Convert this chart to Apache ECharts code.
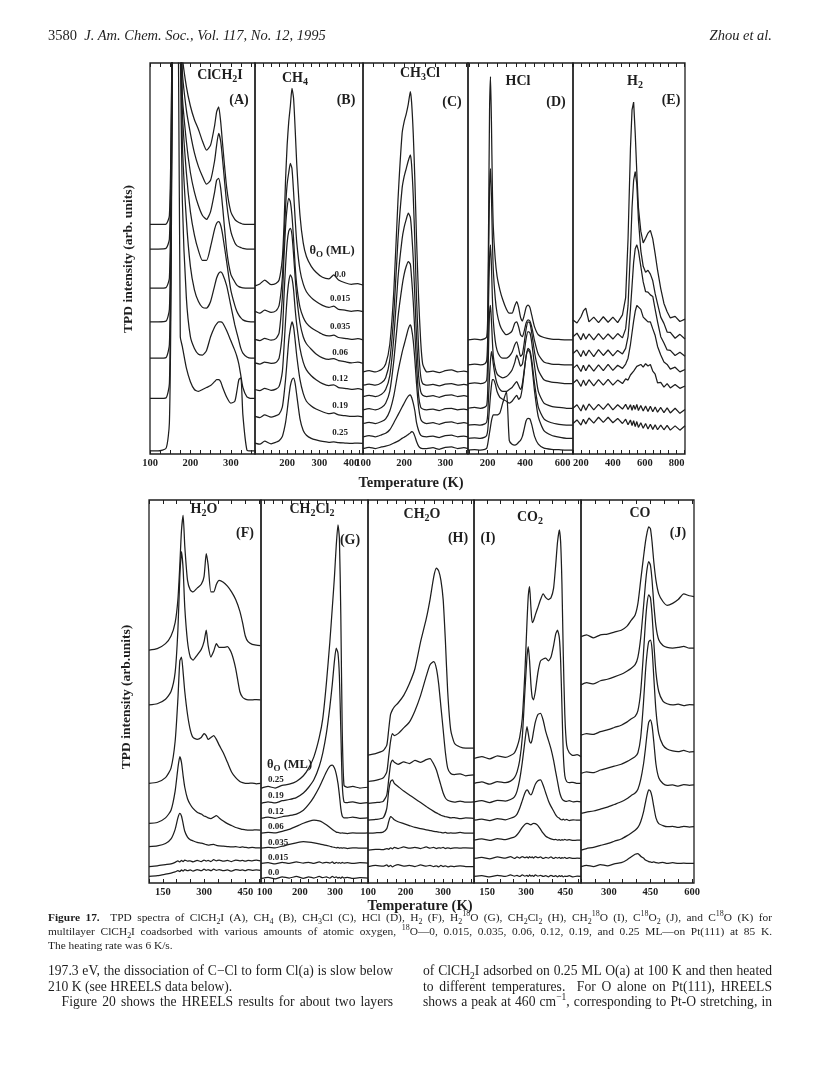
<!DOCTYPE html>
<html><head><meta charset="utf-8">
<script src="https://cdn.jsdelivr.net/npm/echarts@6.0.0/dist/echarts.min.js"></script>
<style>
html,body{margin:0;padding:0;background:#fff;}
#chart{position:absolute;left:0;top:0;width:820px;height:1068px;}
.txt{position:absolute;font-family:'Liberation Serif','Times New Roman',serif;color:#1e1e1e;line-height:15px;}
.j{text-align:justify;text-align-last:justify;}
.n{white-space:nowrap;}
sub,sup{font-size:70%;line-height:0;}
</style></head><body>
<div id="chart"></div>
<div class="txt n" style="left:48px;top:28px;font-size:14.5px;">3580&nbsp;&nbsp;<i>J. Am. Chem. Soc., Vol. 117, No. 12, 1995</i></div>
<div class="txt n" style="right:48px;top:28px;font-size:14.5px;"><i>Zhou et al.</i></div>
<div class="txt j" style="left:48px;top:910px;width:724px;font-size:11.4px;line-height:14px;"><b>Figure 17.</b>&nbsp; TPD spectra of ClCH<sub>2</sub>I (A), CH<sub>4</sub> (B), CH<sub>3</sub>Cl (C), HCl (D), H<sub>2</sub> (F), H<sub>2</sub><sup>18</sup>O (G), CH<sub>2</sub>Cl<sub>2</sub> (H), CH<sub>2</sub><sup>18</sup>O (I), C<sup>18</sup>O<sub>2</sub> (J), and C<sup>18</sup>O (K) for</div>
<div class="txt j" style="left:48px;top:924px;width:724px;font-size:11.4px;line-height:14px;">multilayer ClCH<sub>2</sub>I coadsorbed with various amounts of atomic oxygen, <sup>18</sup>O&#8212;0, 0.015, 0.035, 0.06, 0.12, 0.19, and 0.25 ML&#8212;on Pt(111) at 85 K.</div>
<div class="txt n" style="left:48px;top:938px;font-size:11.4px;line-height:14px;">The heating rate was 6 K/s.</div>
<div class="txt j" style="left:48px;top:963px;width:345px;font-size:13.6px;">197.3 eV, the dissociation of C&#8722;Cl to form Cl(a) is slow below</div>
<div class="txt n" style="left:48px;top:979px;font-size:13.6px;">210 K (see HREELS data below).</div>
<div class="txt j" style="left:48px;top:994px;width:345px;font-size:13.6px;">&emsp;Figure 20 shows the HREELS results for about two layers</div>
<div class="txt j" style="left:423px;top:963px;width:349px;font-size:13.6px;">of ClCH<sub>2</sub>I adsorbed on 0.25 ML O(a) at 100 K and then heated</div>
<div class="txt j" style="left:423px;top:979px;width:349px;font-size:13.6px;">to different temperatures.&nbsp; For O alone on Pt(111), HREELS</div>
<div class="txt j" style="left:423px;top:994px;width:349px;font-size:13.6px;">shows a peak at 460 cm<sup>&#8722;1</sup>, corresponding to Pt-O stretching, in</div>
<script>
// ---------------- DATA (temperatures in K, intensities in arb. units, offset traces top->bottom) -------------
// top figure: traces ordered theta_O = 0.0 (top) ... 0.25 (bottom)
const coverTop = ['0.0','0.015','0.035','0.06','0.12','0.19','0.25'];
// bottom figure: traces ordered theta_O = 0.25 (top) ... 0.0 (bottom)
const coverBottom = ['0.25','0.19','0.12','0.06','0.035','0.015','0.0'];

const tA = [100,120,140,148,152,156,160,165,170,175,180,190,200,210,220,230,240,250,260,265,270,275,280,290,300,310,315,320,325,330,340,350,360];
const sA = [
 [58.7,58.7,58.8,61,80,120,130,130,130,125,102,94,89,85.5,83,80,77.7,79,84,87.5,88.8,85,79,68,62,60,59.5,59.2,59,58.8,58.7,58.7,58.7],
 [52.4,52.4,52.6,55,75,120,130,130,130,122,98,88,82,77,73.5,71,69,70,75,79,82,80,75,64,57,54,53.3,53,52.8,52.6,52.4,52.4,52.4],
 [42.4,42.4,42.6,45,68,118,130,130,130,120,92,80,72,67,63.5,61,60,62,67,70,70.5,68,63,52,46,44,43.2,42.8,42.6,42.5,42.4,42.4,42.4],
 [33.8,33.8,34,37,60,115,130,130,130,118,88,72,62,56,52,49.5,49.5,53,57.5,59,59.4,58.5,56,49,42,38,36.5,35.5,34.8,34.3,33.9,33.8,33.8],
 [24.5,24.5,24.7,28,55,112,130,130,130,115,80,60,48,42,39,37.5,37.3,39,43,45,46.2,46.6,46,43,38,33,31,29,27,25.8,24.8,24.5,24.5],
 [14.2,14.2,14.4,18,50,110,130,130,128,105,65,40,30,27,25.5,25.3,26.5,30,32.5,33.3,33.8,33.8,33.5,31.5,29,26.5,25,23,20,17,14.6,14.2,14.2],
 [0.8,0.8,1.5,8,40,110,130,130,110,30,27.5,22,18.5,16.5,16,16.5,17,17.5,18.5,19,19,18.5,17,14.5,13,13.5,16,19,19.5,10,1,0.8,0.8]
];
const tB = [100,115,130,150,165,175,185,190,195,200,205,210,215,220,225,230,240,250,260,275,290,310,330,345,360,380,400,420,436];
const sB = [
 [43,43.5,44.5,43.3,43.6,44.5,50,58,70,79,85,89,93.5,91,83,74,61,54,50.5,48,46.5,45.2,44.8,45.8,44.5,43.8,43.4,43.6,43.2],
 [36.5,36,36.8,36.2,36.6,38,45,54,63,69,72,74.3,73,67,60,54,47,43.5,41.5,40,39,38,37.5,37.8,37,36.8,36.5,36.7,36.4],
 [29.3,29,29.6,29.1,29.5,31,40,50,58,63,65.4,64.5,61,55,48,43,37.5,35,33.5,32.3,31.5,30.6,30.2,30.4,29.8,29.6,29.3,29.5,29.2],
 [23.3,23,23.5,23.2,23.4,24.5,31,40,48,54,57,57.7,56,51,45,40,33.5,30,28.2,26.8,25.6,24.6,24.2,24.4,23.9,23.6,23.3,23.5,23.2],
 [16.5,16.2,16.8,16.3,16.6,17.3,21,27,34,40,44,45.8,45,42,37,33,27,23.5,21.5,20,19,18,17.5,17.7,17,16.8,16.5,16.7,16.4],
 [9.6,9.3,10,9.4,9.8,10.2,12,15,19,24,29,32,33.8,32.5,29,25,19,15.5,13.5,12.3,11.5,10.8,10.3,10.5,10,9.8,9.6,9.7,9.5],
 [2.8,2.5,3.3,2.6,3,3.4,4.5,6,8,11,14.5,17.5,19,19.4,18,15,9,6,4.8,4,3.6,3.2,3,3.1,2.9,2.8,2.7,2.8,2.7]
];
const tC = [100,115,130,145,155,165,175,185,195,200,205,210,215,218,222,226,230,235,240,245,255,270,285,300,315,330,345,355];
const sC = [
 [21,21.3,21,21.6,23,28,42,65,82,85,87,89.5,92.7,90,82,70,55,40,29,23,21,21.2,20.8,21.3,21.5,21,21.2,21],
 [17.6,17.9,17.6,18.2,19.5,24,36,55,68,71,73,75,76.5,74,66,54,40,27,20,18,17.6,17.8,17.4,17.9,18,17.6,17.8,17.6],
 [14.7,15,14.7,15.3,16.5,20,30,45,55,58,60,61.6,60.5,57,50,40,30,20,16,15,14.7,14.9,14.5,15,15.1,14.7,14.9,14.7],
 [11.3,11.6,11.3,11.9,13,16,24,35,43,46,48,49.2,48.5,45,39,31,23,15,12,11.5,11.3,11.5,11.1,11.6,11.7,11.3,11.5,11.3],
 [7.8,8.1,7.8,8.3,9,11,15,21,26,28,30,32,33,32,29,24,18,12,9,8.2,7.8,8,7.6,8.1,8.2,7.8,8,7.8],
 [4.4,4.7,4.4,4.9,5.3,6.2,8,10,12,13,14,14.8,15.1,14.5,13,11,8,6,4.8,4.5,4.4,4.6,4.2,4.7,4.8,4.4,4.6,4.4],
 [1.4,1.7,1.4,1.8,2,2.3,2.8,3.3,4,4.3,4.6,5,5.4,5.7,5.5,4.5,3.2,2,1.5,1.4,1.4,1.6,1.2,1.7,1.8,1.4,1.6,1.4]
];
const tD = [95,130,160,185,195,200,205,210,215,220,225,230,240,250,265,280,300,315,330,345,355,365,375,385,395,405,415,425,435,450,470,500,540,580,620,655];
const sD = [
 [29.2,29.4,29.2,29.5,30,35,60,88,96.5,85,68,58,50,45.5,42,39.5,37,36,36,38,39,37.5,35,34,35.5,37.5,38.1,37.5,35.5,32.5,30.5,29.8,29.4,29.3,29.2,29.2],
 [22.8,23,22.8,23.1,24,30,50,68,73,66,55,47,40,36,33,31.5,30.5,30.8,31.5,33.5,33.8,32.5,30.5,30,31.5,33.5,34.3,34,32.5,29,25.5,23.5,23,22.9,22.8,22.8],
 [18,18.2,18,18.3,19,24,40,50,53.5,48,40,34,29,26.5,25,24.5,24.5,25,26,28,28.7,27,25,25.5,28.5,32,33.8,33.5,31,26,21.5,19,18.4,18.2,18,18],
 [11.7,11.9,11.7,12,12.5,16,28,36,38,34,29,25,22,20.5,19.8,19.5,19.8,20.5,21.5,23.5,25.3,24,22.5,23,26,29.5,31.3,31,28.5,22.5,16,13,12.2,11.9,11.7,11.7],
 [7.4,7.5,7.4,7.7,8.2,10,15,20,24,26.2,25,23,20,18,16.5,16,16,16.5,17,18,18.5,17.5,16.5,18,21.5,25,27,26.5,24,18,12,9,8,7.6,7.4,7.4],
 [4,4.1,4,4.3,4.8,6,9,12,15,17.5,19,19,18,16,14.5,14,13.5,13,13.5,14.5,15,14,14.5,17,21,25,26.5,26,23,16,9.5,6,4.8,4.3,4,4],
 [1,1.1,1,1.2,1.5,2.5,4,5.5,7,8.5,9.5,10,10,10,10.5,13,16,3.5,2.5,2.3,2.5,3,3.5,4.5,6.5,8.5,9.1,9,7.5,4.5,2.5,1.5,1.2,1.1,1,1]
];
const tE = [150,175,200,215,230,250,280,310,340,370,400,430,460,480,495,510,520,530,540,550,560,575,590,605,620,635,650,665,680,700,720,740,760,790,820,852];
const sE = [
 [34.3,33.5,35.1,36.6,37.3,33.8,35,33.6,35.1,33.7,35,33.6,35.6,40,55,78,88,90,82,72,63,57,54,55.2,56.5,57.2,55,51.2,47,42.3,38.5,36.4,34.8,35.2,33.9,34.5],
 [30,30.9,29.2,30.8,29.4,30.7,29.2,30.8,29.3,30.7,29.4,30.8,29.7,32,38,52,63,70,72.2,69,60,52,48,46.5,47,46,44.3,41,38.4,35,33.4,31.2,31.1,29.6,30.6,29.4],
 [25.7,26.6,24.9,26.5,25.1,26.6,24.9,26.7,25.2,26.6,25.1,26.5,25.6,27,30,37,43,49,52.5,53.5,52,48,44,41.5,41.4,40.7,40.3,37,33.8,30,28.4,26.6,26.5,25.2,26,25],
 [21.9,22.8,21.1,22.7,21.3,22.8,21.2,22.8,21.3,22.9,21.4,22.7,21.9,23,24.5,28,31,34,36.5,38,38.1,37,35,34.4,33.8,33.8,32,30.3,27.5,25.3,23.5,22.9,21.7,22.2,21,21.6],
 [18.1,19,17.3,18.9,17.5,19,17.4,19,17.6,19.1,17.6,18.9,18,19.2,18.9,20.2,19.9,21.2,21.1,22.4,21.9,22.9,22.2,23.1,22.5,22.9,21.2,20.4,18.2,18.3,17.1,18,16.9,17.8,16.8,17.4],
 [11.7,12.6,11,12.6,11.2,12.8,11.3,12.7,11.4,12.9,11.3,12.6,11.5,12.7,11.4,12.6,11.2,12.5,11.4,12.7,11.1,12.4,11,12.3,10.9,12.2,10.8,12,10.7,11.9,10.6,11.8,10.5,11.7,10.4,11.4],
 [7.8,8.7,7.4,8.9,7.7,9.2,7.9,9.4,8.1,9.4,8,9.1,7.8,8.9,7.5,8.7,7.3,8.5,7,8.3,6.8,8,6.6,7.8,6.4,7.6,6.3,7.5,6.2,7.4,6.2,7.3,6.1,7.2,6.1,7.2]
];
const tF = [100,130,160,180,195,205,212,218,224,230,240,250,260,275,290,300,308,315,325,335,345,355,370,385,400,415,430,440,450,460,475,490,505];
const sF = [
 [60.8,61.2,62.5,64.5,68,74,83,92,96,88,79,76.5,76,77,78,80,86,83,76,76,78,79,78.5,77.5,76,74,71,68,64.5,63,62.3,62.1,62],
 [46.5,46.8,48,50,55,66,80,86.5,82,72,63,59,58.2,59.5,61,63,66,62,59,60.5,62.5,61.5,61.5,61.7,60,56,50,48.5,48,47.8,47.8,47.9,47.8],
 [26,26.3,27.5,30,37,48,58,59,55,50,44,40,38,37.5,38,39,38.5,37.5,38,38.5,37.5,36,34,31.5,29,27.5,26.5,26.2,26,26,26.1,25.9,26],
 [15.6,15.8,17,19,24,30,33,31.5,28,25,22,20.5,19.5,18.5,18,17.5,17.3,17,16.8,17.2,17.6,17,16.2,15.5,15,14.5,14.2,14,13.9,13.8,13.8,13.9,13.8],
 [9.5,9.7,10.3,11.5,14,17,18.2,17.5,15.5,13.5,12,11.3,11,10.6,10.4,10.2,10,9.9,10,10.1,9.8,9.7,9.6,9.5,9.4,9.5,9.3,9.4,9.3,9.2,9.3,9.2,9.2],
 [4.3,4.5,4.8,5,5.4,5.8,5.5,5.9,5.6,6,5.7,5.8,5.5,5.9,5.6,6,5.7,5.9,5.6,6.1,5.8,6,5.7,5.9,5.6,6,5.8,5.9,5.7,5.9,5.8,6,5.8],
 [1.7,1.9,2.3,2.6,2.9,3.2,3,3.4,3.1,3.5,3.2,3.4,3.1,3.5,3.2,3.6,3.3,3.5,3.2,3.6,3.3,3.5,3.2,3.4,3.1,3.5,3.3,3.4,3.2,3.5,3.3,3.4,3.3]
];
const tG = [90,110,130,150,170,190,210,225,240,255,265,275,285,292,298,303,308,312,316,320,325,335,350,370,393];
const sG = [
 [24.7,25.2,24.8,25.5,25.8,26.5,28,30,33,38,43,52,63,72,80,88,93.5,90,70,40,25.5,25,25.2,24.8,25],
 [20.8,21.2,20.9,21.5,21.8,22.3,23.5,25,27,30.5,34,39,46,52,58,61.3,60,54,40,26,21.2,21,21.2,20.8,21],
 [16.9,17.2,16.9,17.3,17.6,18,19,20.5,22.5,25,27,29,30.5,30.8,30,28.5,26,23,19.5,17.5,17,17,17.2,16.9,17],
 [13,13.2,13.1,13.5,14,14.8,15.6,16.1,16.4,16.2,15.8,15.2,14.5,14,13.6,13.3,13.2,13.1,13,13.1,13,12.9,13.1,13,13.1],
 [9.1,9.3,9.2,9.6,10.1,10.5,10.8,10.7,10.5,10.2,10,9.8,9.6,9.4,9.3,9.2,9.3,9.1,9.2,9.1,9.2,9,9.2,9.1,9.1],
 [5.1,5.3,5,5.4,5.1,5.5,5.2,5.4,5.1,5.5,5.2,5.4,5.2,5.5,5.1,5.4,5.2,5.3,5.1,5.4,5.2,5.3,5.1,5.3,5.2],
 [1.2,1.5,1.1,1.6,1.3,1.7,1.2,1.6,1.3,1.7,1.4,1.6,1.3,1.7,1.4,1.6,1.3,1.5,1.2,1.6,1.3,1.5,1.2,1.4,1.3]
];
const tH = [100,120,140,150,155,160,165,170,180,195,210,225,240,255,265,275,282,288,294,300,306,312,320,330,345,360,382];
const sH = [
 [33.4,33.8,34.5,36,40,44,45.2,46,47,49,52,56,63,69,74,80,82.2,81.5,79,74,63,50,40,36.5,35.5,35.2,35.2],
 [26.5,26.8,27.4,29,33,37,39,38.5,39,40.5,42,45,49,54,57,57.8,56,52,46,40,34,30,28.6,28.3,28.5,28,28.2],
 [20.8,21,21.3,23,27,31,32.1,31.5,31,31.6,31.2,32,31.5,32.2,32.5,31,29.5,27.5,25.5,23.5,22.2,21.6,21.3,21.1,21.4,21.1,21.2],
 [16.4,16.6,17,19.5,24,26.5,26.9,26,25.2,24,23,22,21,20,19.3,18.7,18.3,18,17.7,17.5,17.3,17.2,17,17.1,16.8,17,16.9],
 [13,13.1,13.3,14.2,16,17.3,17,16.5,16,15.5,15,14.5,14.2,13.9,13.7,13.5,13.4,13.3,13.2,13.1,13.2,13,13.1,13,13.2,13,13],
 [8.6,8.8,8.7,9,8.8,9.2,8.9,9.3,9,9.4,9.1,9.3,9,9.4,9.1,9.3,9,9.2,9.1,9.3,9,9.2,9,9.2,9.1,9.2,9.1],
 [4.3,4.6,4.4,4.7,4.3,4.6,4.2,4.5,4.8,4.4,4.6,4.3,4.7,4.4,4.6,4.3,4.5,4.2,4.6,4.3,4.5,4.2,4.4,4.3,4.5,4.3,4.3]
];
const tI = [100,130,160,190,220,240,255,265,275,285,295,303,308,313,318,323,328,335,345,355,365,375,385,395,405,413,420,427,432,437,442,448,455,465,480,495,510];
const sI = [
 [32.5,33,32.4,33.2,32.8,33.3,34,35.5,38,43,55,68,75,77.4,72,68,68.5,70,72,74,75.5,74.5,74,74.5,77,83,89,92.2,89,78,60,44,36,34,33.3,33.5,33],
 [26,26.4,25.8,26.5,26.2,26.6,27.5,29,32,38,50,59,61.7,58,52,48.5,47.8,50,55,58,58.5,58.7,58,59,62,65,66,64,58,46,34,28,26.5,26.2,26.3,26,26],
 [21.2,21.5,21,21.6,21.4,21.8,22.5,24,27,31.5,37,40.8,39,37,36.5,37.5,39.5,42,44,44.3,42.5,39.5,37.3,35,32,29,26.5,24,22.8,22,21.6,21.4,21.3,21.5,21.2,21.3,21.2],
 [16.4,16.7,16.3,16.8,16.5,16.9,17.3,18,19.5,21.5,23.5,24.3,24,23.3,23,23.5,24.5,25.8,26.7,26.9,25.5,23.5,21.5,20,18.8,17.8,17.2,16.9,16.6,16.5,16.7,16.4,16.6,16.3,16.5,16.4,16.4],
 [11.2,11.5,11.1,11.6,11.3,11.7,12,12.6,13.5,14.5,15.3,15.6,15.5,15.3,15.2,15.4,15.6,15.5,15,14,13,12.2,11.8,11.5,11.3,11.4,11.2,11.3,11.1,11.3,11.2,11.4,11.2,11.3,11.1,11.2,11.2],
 [6.4,6.7,6.3,6.8,6.5,6.9,6.4,6.8,6.5,6.9,6.6,6.8,6.5,6.9,6.6,6.8,6.5,6.9,6.6,6.8,6.4,6.7,6.5,6.8,6.4,6.7,6.5,6.7,6.4,6.6,6.5,6.7,6.4,6.6,6.4,6.5,6.4],
 [1.7,1.9,1.6,2,1.7,2.1,1.8,2,1.7,2.1,1.8,2,1.7,2.1,1.8,2,1.7,2.1,1.8,2,1.7,1.9,1.6,2,1.7,1.9,1.6,1.9,1.7,1.9,1.6,1.8,1.7,1.9,1.6,1.8,1.7]
];
const tJ = [200,220,245,270,295,320,345,365,380,395,405,415,425,432,438,444,450,456,462,470,480,495,510,530,550,570,590,607];
const sJ = [
 [64.3,64.8,64,64.8,65,65.5,66,67,68.5,70,73,79,85,89,91.5,93,92.5,89,84,79,75.5,73.5,72.5,73,74,75.5,75,74.8],
 [51.7,52.3,52,52.8,53.2,53.8,54.5,55.3,56,57,59,64,72,78,82,83.9,83,79,73,67,63.5,62,61.5,61.3,61.5,61.8,61.3,61.3],
 [38.6,39,38.8,39.5,40,40.6,41.2,42,42.8,43.5,45,50,60,68,73,75.2,74.5,70,63,55,50,47.5,46.8,46.5,46.7,46.3,46.6,46.5],
 [28.6,29,28.8,29.5,30,30.5,31,31.7,32.3,33,34,38,47,55,60,63,63.4,61,54,45,39,36,35,34.5,34.3,34.6,34.2,34.3],
 [18.2,18.5,18.8,19.3,19.8,20.5,21.2,22,22.8,23.5,24.5,27,31,35,39,42,42.6,41,37,31,27.5,26,25.5,25.6,25.3,25.7,25.5,25.6],
 [8.6,9,9.3,9.8,10.3,10.9,11.5,12.3,13,13.8,14.5,16,18.5,21,23,24.3,24,22.5,20,17,15.5,15,14.7,14.8,14.5,14.8,14.6,14.7],
 [4.3,4.6,4.3,4.8,4.5,5,5.3,6,6.8,7.5,7.7,7,6.5,6,5.8,5.6,5.5,5.4,5.5,5.3,5.2,5.4,5.1,5.3,5.1,5.2,5.1,5.1]
];
// tick labels per panel (K)
const labA=[100,200,300], labB=[200,300,400], labC=[100,200,300], labD=[200,400,600], labE=[200,400,600,800];
const labF=[150,300,450], labG=[100,200,300], labH=[100,200,300], labI=[150,300,450], labJ=[300,450,600];

// ---------------- LAYOUT ----------------
const FONT = '"Liberation Serif","Times New Roman",serif';
const INK = '#1e1e1e';
const TOP = {top:63, height:391}, BOT = {top:500, height:383};
const panels = [
 {T:tA,S:sA,lab:labA,min:100,max:360,step:25,left:150,width:105,row:TOP,sm:0.2},
 {T:tB,S:sB,lab:labB,min:100,max:436,step:25,left:255,width:108,row:TOP,sm:0.2},
 {T:tC,S:sC,lab:labC,min:100,max:355,step:25,left:363,width:105,row:TOP,sm:0.2},
 {T:tD,S:sD,lab:labD,min:95,max:655,step:50,left:468,width:105,row:TOP,sm:0.2},
 {T:tE,S:sE,lab:labE,min:150,max:852,step:50,left:573,width:112,row:TOP,sm:false},
 {T:tF,S:sF,lab:labF,min:100,max:507,step:50,left:149,width:112,row:BOT,sm:0.2},
 {T:tG,S:sG,lab:labG,min:90,max:393,step:25,left:261,width:107,row:BOT,sm:0.2},
 {T:tH,S:sH,lab:labH,min:100,max:382,step:25,left:368,width:106,row:BOT,sm:0.2},
 {T:tI,S:sI,lab:labI,min:100,max:510,step:50,left:474,width:107,row:BOT,sm:0.2},
 {T:tJ,S:sJ,lab:labJ,min:200,max:607,step:50,left:581,width:113,row:BOT,sm:0.2}
];
const grid=[], xAxis=[], yAxis=[], series=[];
panels.forEach((p,i)=>{
  grid.push({left:p.left, top:p.row.top, width:p.width, height:p.row.height, show:true,
    borderColor:INK, borderWidth:1.3, backgroundColor:'rgba(0,0,0,0)'});
  const ticks=[]; for(let t=Math.ceil(p.min/p.step)*p.step; t<=p.max; t+=p.step) ticks.push(t);
  const tickCfg = {show:true, inside:true, length:4, customValues:ticks, lineStyle:{color:INK,width:1}};
  xAxis.push({type:'value', gridIndex:i, min:p.min, max:p.max, position:'bottom',
    axisLine:{show:false}, splitLine:{show:false}, axisTick:tickCfg,
    axisLabel:{customValues:p.lab, fontFamily:FONT, fontWeight:'bold', fontSize:10.5, color:INK, margin:4}});
  xAxis.push({type:'value', gridIndex:i, min:p.min, max:p.max, position:'top',
    axisLine:{show:false}, splitLine:{show:false}, axisTick:tickCfg, axisLabel:{show:false}});
  yAxis.push({type:'value', gridIndex:i, min:0, max:100, show:false});
  p.S.forEach(arr=>{
    series.push({type:'line', xAxisIndex:2*i, yAxisIndex:i, data:p.T.map((t,k)=>[t,arr[k]]),
      symbol:'none', smooth:p.sm, clip:true, silent:true,
      lineStyle:{color:INK, width:1.25}});
  });
});

function rt(text, x, y, size, align){
  return {type:'text', x:x, y:y, silent:true, style:{text:text, textAlign:align||'center', align:align||'center',
    textVerticalAlign:'middle', verticalAlign:'middle',
    rich:{n:{fontFamily:FONT,fontWeight:'bold',fontSize:size,lineHeight:size+4,fill:INK},
          s:{fontFamily:FONT,fontWeight:'bold',fontSize:Math.round(size*0.68),lineHeight:Math.round(size*0.5),verticalAlign:'bottom',fill:INK}}}};
}
function pt(text, x, y, font, align, rot){
  return {type:'text', x:x, y:y, rotation:rot||0, silent:true, style:{text:text, font:font, fill:INK,
    textAlign:align||'center', align:align||'center', textVerticalAlign:'middle', verticalAlign:'middle'}};
}
const B14 = 'bold 14px '+FONT, B9 = 'bold 9px '+FONT;
const graphic = [
  rt('{n|ClCH}{s|2}{n|I}',220,75,14), pt('(A)',239,100,B14),
  rt('{n|CH}{s|4}',295,78,14), pt('(B)',346,100,B14),
  rt('{n|CH}{s|3}{n|Cl}',420,73,14), pt('(C)',452,102,B14),
  rt('{n|HCl}',518,81,14), pt('(D)',556,102,B14),
  rt('{n|H}{s|2}',635,81,14), pt('(E)',671,100,B14),
  rt('{n|H}{s|2}{n|O}',204,509,14), pt('(F)',245,533,B14),
  rt('{n|CH}{s|2}{n|Cl}{s|2}',312,509,14), pt('(G)',350,540,B14),
  rt('{n|CH}{s|2}{n|O}',422,514,14), pt('(H)',458,538,B14),
  rt('{n|CO}{s|2}',530,517,14), pt('(I)',488,538,B14),
  rt('{n|CO}',640,513,14), pt('(J)',678,533,B14),
  pt('TPD intensity (arb. units)',129,259,'bold 13.5px '+FONT,'center',Math.PI/2),
  pt('TPD intensity (arb.units)',127,697,'bold 13.5px '+FONT,'center',Math.PI/2),
  pt('Temperature (K)',411,483,'bold 14.5px '+FONT),
  pt('Temperature (K)',420,906,'bold 14.5px '+FONT),
  rt('{n|θ}{s|O}{n| (ML)}',332,251,12.5),
  rt('{n|θ}{s|O}{n| (ML)}',267,765,12.5,'left')
];
const yTopLab=[275,299,327,353,379,406,433];
coverTop.forEach((c,k)=>graphic.push(pt(c,340,yTopLab[k],B9)));
const yBotLab=[780,796,812,827,843,858,873];
coverBottom.forEach((c,k)=>graphic.push(pt(c,268,yBotLab[k],B9,'left')));

const chart = echarts.init(document.getElementById('chart'), null, {renderer:'canvas'});
chart.setOption({animation:false, backgroundColor:'#fff', grid, xAxis, yAxis, series, graphic});
</script>
</body></html>
